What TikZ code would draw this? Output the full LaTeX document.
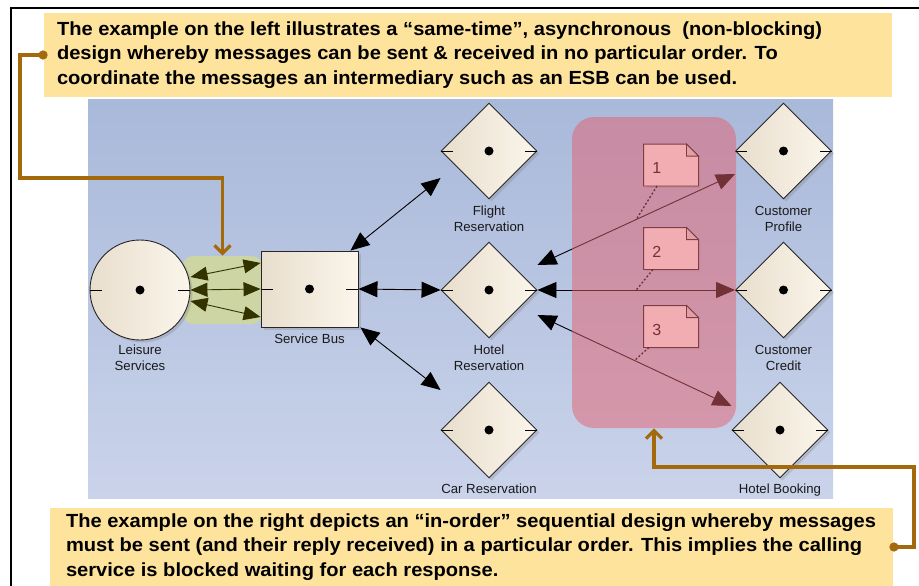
\documentclass[tikz,border=0pt]{standalone}
\usepackage{fontspec}
\setmainfont{Liberation Sans}
\usepackage{tikz}
\usetikzlibrary{arrows.meta,shapes.geometric,shadows,positioning}

\definecolor{panelTop}{HTML}{A9B9DA}
\definecolor{panelBot}{HTML}{CAD3EA}
\definecolor{beigeL}{HTML}{E8DECD}
\definecolor{beigeR}{HTML}{FBF5EB}
\definecolor{noteYellow}{HTML}{FDE39B}
\definecolor{calloutBrown}{HTML}{A36A0C}
\definecolor{hubGreen}{HTML}{CDD5A4}
\definecolor{msgOlive}{HTML}{333300}
\definecolor{seqPink}{HTML}{E4606E}
\definecolor{memoFill}{HTML}{FFFBF6}

\begin{document}
\begin{tikzpicture}[x=1pt, y=-1pt, line width=0.9pt, font=\fontsize{13.2}{16}\selectfont,
  svc/.style={diamond, draw=black!85, left color=beigeL, right color=beigeR,
    minimum width=96pt, minimum height=96pt, inner sep=0pt,
    drop shadow={opacity=0.3, shadow xshift=2.5pt, shadow yshift=-2.5pt}},
  lbl/.style={align=center, text=black!90, inner sep=1pt},
  arr/.style={draw=black, {Triangle[length=19pt,width=16pt]}-{Triangle[length=19pt,width=16pt]}},
  msg/.style={draw=msgOlive, {Triangle[length=17pt,width=14pt]}-{Triangle[length=17pt,width=14pt]}},
  memo/.style={minimum width=54pt, minimum height=41pt, inner sep=0pt},
  callout/.style={draw=calloutBrown, line width=3.2pt,
    {Circle[length=9pt]}-{Straight Barb[length=8pt,width=16pt]}},
  blurb/.style={fill=noteYellow, inner sep=0pt, font=\fontsize{19}{24.5}\selectfont\bfseries}]

\useasboundingbox (0,0) rectangle (919,586);

% frame and backdrop
\draw[line width=1.3pt] (11,586) -- (11,8) -- (919,8);
\shade[top color=panelTop, bottom color=panelBot] (88,100) rectangle (833,498);

% text boxes
\node[blurb, minimum width=848pt, minimum height=84pt] (topnote) at (468,55)
  {\makebox[822pt][l]{\resizebox{765pt}{\height}{\begin{tabular}{@{}l@{}}
   The example on the left illustrates a ``same-time'', asynchronous\ \ (non-blocking)\\
   design whereby messages can be sent \& received in no particular order. To\\
   coordinate the messages an intermediary such as an ESB can be used.
   \end{tabular}}}};
\node[blurb, minimum width=843pt, minimum height=78pt] (botnote) at (471.5,547)
  {\makebox[811pt][l]{\resizebox{810pt}{\height}{\begin{tabular}{@{}l@{}}
   The example on the right depicts an ``in-order'' sequential design whereby messages\\
   must be sent (and their reply received) in a particular order. This implies the calling\\
   service is blocked waiting for each response.
   \end{tabular}}}};

% services
\node[fill=hubGreen, rounded corners=10pt, minimum width=79pt, minimum height=68pt] (hub) at (222.5,290) {};
\node[circle, draw=black!85, left color=beigeL, right color=beigeR, minimum size=100pt, inner sep=0pt,
  drop shadow={opacity=0.3, shadow xshift=2.5pt, shadow yshift=-2.5pt}] (lei) at (140,290) {};
\node[rectangle, draw=black!85, left color=beigeL, right color=beigeR, minimum width=97pt, minimum height=76pt,
  drop shadow={opacity=0.3, shadow xshift=2.5pt, shadow yshift=-2.5pt}] (bus) at (309.5,289) {};
\node[svc] (fr) at (489,151) {};
\node[svc] (hr) at (489,290) {};
\node[svc] (cr) at (489,430) {};
\node[svc] (cp) at (783.5,151) {};
\node[svc] (cc) at (783.5,290) {};
\node[svc] (hb) at (780,430) {};

\foreach \s in {lei,bus,fr,hr,cr,cp,cc,hb} {
  \fill (\s) circle (4.5pt);
  \draw (\s.west) -- ++(12,0) (\s.east) -- ++(-12,0);
}

\node[lbl, below=3pt of lei] (leiLbl) {Leisure\\Services};
\node[lbl, below=5pt of bus] (busLbl) {Service Bus};
\node[lbl, below=5pt of fr] (frLbl) {Flight\\Reservation};
\node[lbl, below=5pt of hr] (hrLbl) {Hotel\\Reservation};
\node[lbl, below=4pt of cr] (crLbl) {Car Reservation};
\node[lbl, below=5pt of cp] (cpLbl) {Customer\\Profile};
\node[lbl, below=5pt of cc] (ccLbl) {Customer\\Credit};
\node[lbl, below=4pt of hb] (hbLbl) {Hotel Booking};

% messages through the bus
\draw[msg] ([yshift=13pt]lei.east) -- ([yshift=26pt]bus.west);
\draw[msg] (lei.east) -- (bus.west);
\draw[msg] ([yshift=-11pt]lei.east) -- ([yshift=-28pt]bus.west);
\draw[arr] ([xshift=-8pt]bus.north east) -- ([yshift=-27pt]fr.west);
\draw[arr] (bus.east) -- (hr.west);
\draw[arr] ([xshift=2pt]bus.south east) -- ([yshift=40pt]cr.west);

% ordered calls
\draw[arr] ([yshift=25pt]hr.east) -- coordinate[pos=0.5] (m1) ([yshift=-23pt]cp.west);
\draw[arr] (hr.east) -- coordinate[pos=0.5] (m2) (cc.west);
\draw[arr] ([yshift=-25pt]hr.east) -- coordinate[pos=0.5] (m3) ([yshift=24pt]hb.west);

\foreach \i/\y/\dx in {1/165/-14,2/248.5/-18,3/326.5/-22} {
  \node[memo] (n\i) at (671,\y) {};
  \filldraw[fill=memoFill, draw=black!90, drop shadow={opacity=0.25, shadow xshift=2pt, shadow yshift=-2pt}]
    (n\i.north west) -- ([xshift=-12pt]n\i.north east)
    -- ([yshift=-12pt]n\i.north east) -- (n\i.south east) -- (n\i.south west) -- cycle;
  \filldraw[fill=black!12, draw=black!90] ([xshift=-12pt]n\i.north east)
    -- ([xshift=-12pt,yshift=-12pt]n\i.north east) -- ([yshift=-12pt]n\i.north east) -- cycle;
  \node[anchor=west, font=\fontsize{16}{17}\selectfont] (t\i) at ([xshift=5pt,yshift=-3pt]n\i.west) {\i};
  \draw[dash pattern=on 2pt off 2pt, line width=1.3pt] ([xshift=\dx pt]n\i.south) -- (m\i);
}

\node[fill=seqPink, fill opacity=0.5, rounded corners=22pt, minimum width=164pt, minimum height=311pt] (seq) at (654,272.5) {};

% callout leaders
\draw[callout] ([xshift=4pt]topnote.west) -| (20,178) -| (hub.north);
\draw[callout] ([xshift=-4pt]botnote.east) -| (914,467) -| (seq.south);

\end{tikzpicture}
\end{document}
